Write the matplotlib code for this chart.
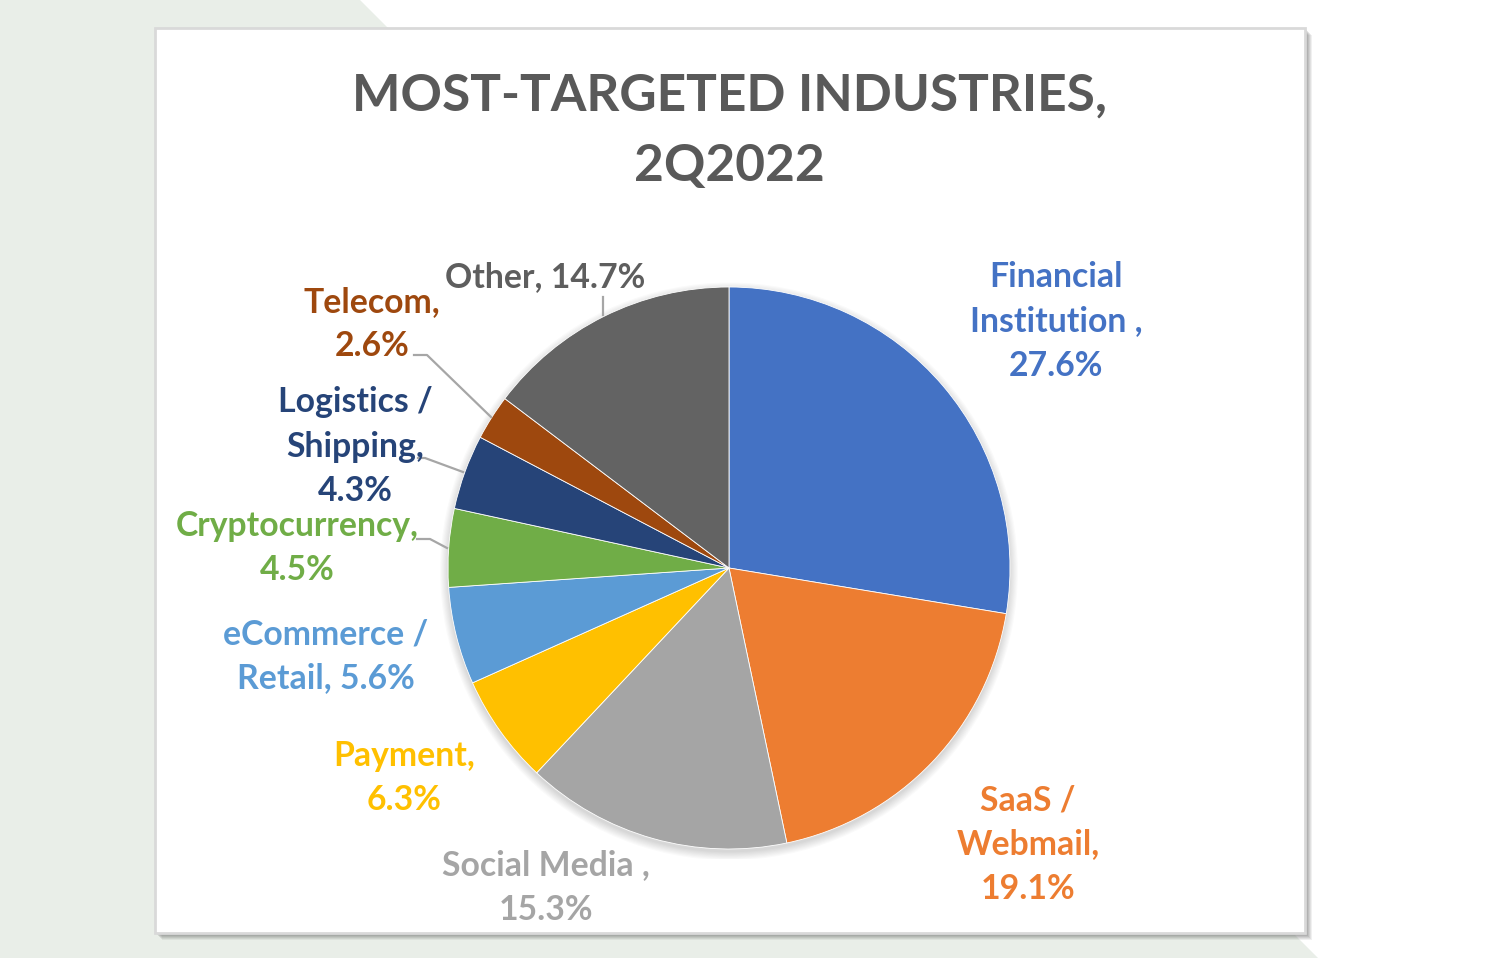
import matplotlib
matplotlib.use("Agg")
import matplotlib.pyplot as plt
from matplotlib.patches import Polygon, Rectangle, Circle

# ---------------- data ----------------
categories = ["Financial Institution", "SaaS / Webmail", "Social Media", "Payment",
              "eCommerce / Retail", "Cryptocurrency", "Logistics / Shipping",
              "Telecom", "Other"]
values = [27.6, 19.1, 15.3, 6.3, 5.6, 4.5, 4.3, 2.6, 14.7]
title_lines = ["MOST-TARGETED INDUSTRIES,", "2Q2022"]

colors = ["#4472C4", "#ED7D31", "#A5A5A5", "#FFC000", "#5B9BD5",
          "#70AD47", "#264478", "#9E480E", "#636363"]
label_colors = ["#4472C4", "#ED7D31", "#A5A5A5", "#FFC000", "#5B9BD5",
                "#70AD47", "#264478", "#9E480E", "#5E5E5E"]

# how each label is wrapped (layout only)
wrapped = {
    "Financial Institution": "Financial\nInstitution ,\n{v}%",
    "SaaS / Webmail": "SaaS /\nWebmail,\n{v}%",
    "Social Media": "Social Media ,\n{v}%",
    "Payment": "Payment,\n{v}%",
    "eCommerce / Retail": "eCommerce /\nRetail, {v}%",
    "Cryptocurrency": "Cryptocurrency,\n{v}%",
    "Logistics / Shipping": "Logistics /\nShipping,\n{v}%",
    "Telecom": "Telecom,\n{v}%",
    "Other": "Other, {v}%",
}
# label anchor: center x, y of first line (pixels from top-left)
label_pos = {
    "Financial Institution": (1056, 277),
    "SaaS / Webmail": (1028, 800),
    "Social Media": (546, 865),
    "Payment": (404, 756),
    "eCommerce / Retail": (326, 634),
    "Cryptocurrency": (297, 526),
    "Logistics / Shipping": (355, 402),
    "Telecom": (372, 302),
    "Other": (545, 277),
}
leaders = {
    "Other": [(603, 297), (603, 315)],
    "Telecom": [(414, 355), (427, 355), (491, 417)],
    "Logistics / Shipping": [(418, 458), (425, 458), (463, 472)],
    "Cryptocurrency": [(417, 539), (430, 539), (447, 548)],
}

W, H = 1504, 958
fig = plt.figure(figsize=(W / 100, H / 100), dpi=100)
fig.patch.set_facecolor("white")

def fx(x):
    return x / W

def fy(y):
    return 1 - y / H

FONT = ["Lato", "DejaVu Sans"]

# background green shape
fig.patches.append(Polygon([(fx(0), fy(0)), (fx(360), fy(0)), (fx(1318), fy(958)), (fx(0), fy(958))],
                           closed=True, transform=fig.transFigure, facecolor="#E9EEE8",
                           edgecolor="none", zorder=0))
# chart box shadow
for i, a in enumerate([0.10, 0.12, 0.14, 0.16, 0.18, 0.22]):
    off = 7 - i
    fig.patches.append(Rectangle((fx(155 + off), fy(933 + off)), fx(1150), (933 - 28) / H,
                                 transform=fig.transFigure, facecolor="#707070", alpha=a,
                                 edgecolor="none", zorder=1))
fig.patches.append(Rectangle((fx(155), fy(933)), fx(1150), (933 - 28) / H,
                             transform=fig.transFigure, facecolor="white",
                             edgecolor="#D9D9D9", linewidth=2, zorder=2))

# pie
cx, cy, r = 729, 568, 281
ax = fig.add_axes([fx(cx - r - 10), fy(cy + r + 10), (2 * r + 20) / W, (2 * r + 20) / H])
ax.set_zorder(3)
ax.patch.set_alpha(0)
lim = (r + 10) / r
# soft shadow
for k in range(8):
    ax.add_patch(Circle((0.0, -0.012), 1.0 + k * 0.004, facecolor="#000000", alpha=0.018,
                        edgecolor="none", zorder=0))
ax.pie(values, colors=colors, startangle=90, counterclock=False, radius=1.0,
       wedgeprops=dict(edgecolor="white", linewidth=0.6, zorder=2))
ax.set_xlim(-lim, lim)
ax.set_ylim(-lim, lim)
ax.set_aspect("equal")
ax.axis("off")

# title
for i, t in enumerate(title_lines):
    fig.text(fx(729), fy(96 + 70 * i), t, ha="center", va="center", fontsize=37,
             fontweight="bold", color="#595959", family=FONT, zorder=5)

# labels
for cat, v, c in zip(categories, values, label_colors):
    lines = wrapped[cat].format(v=v).split("\n")
    x0, y0 = label_pos[cat]
    for j, ln in enumerate(lines):
        fig.text(fx(x0), fy(y0 + 44.5 * j), ln, ha="center", va="center", fontsize=24.3,
                 fontweight="bold", color=c, family=FONT, zorder=5)

for cat, pts in leaders.items():
    xs = [fx(p[0]) for p in pts]
    ys = [fy(p[1]) for p in pts]
    fig.add_artist(plt.Line2D(xs, ys, transform=fig.transFigure, color="#A6A6A6",
                              linewidth=1.6, zorder=4))

fig.savefig("out.png", dpi=100, facecolor="white")
